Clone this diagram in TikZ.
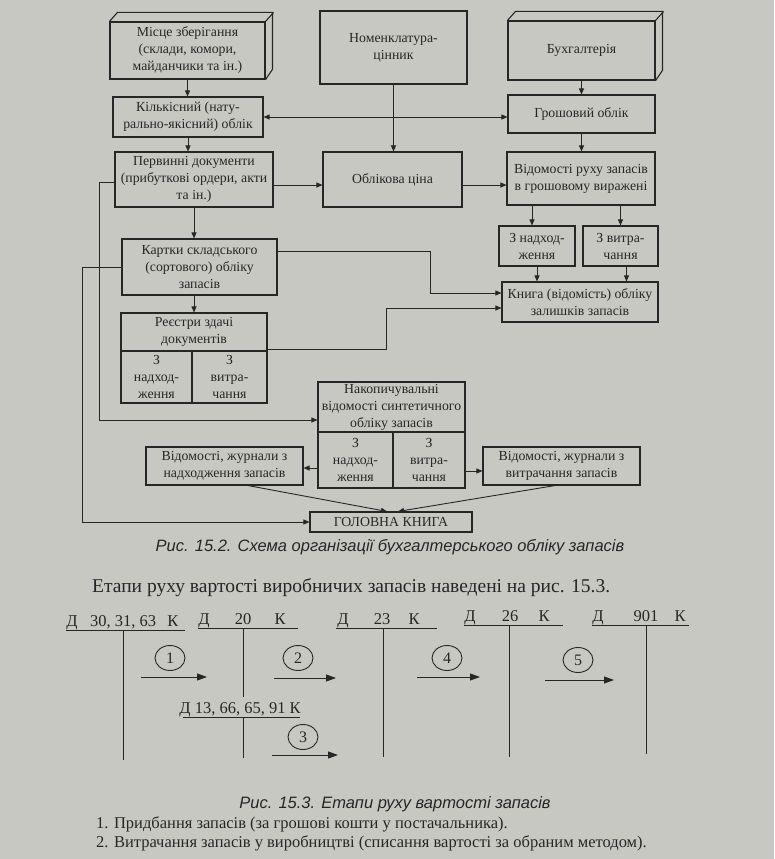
\documentclass[tikz,border=0pt]{standalone}
\usepackage{fontspec}
\setmainfont{Liberation Serif}
\setsansfont{Liberation Sans}
\usetikzlibrary{arrows.meta,shapes.geometric}
\definecolor{bg}{RGB}{200,200,195}
\definecolor{ink}{RGB}{38,38,38}
\begin{document}
\begin{tikzpicture}[x=1pt,y=-1pt,
  box/.style={draw=ink, fill=bg, line width=1.1pt, inner sep=1pt, align=center, text=ink,
    font=\fontsize{13.8}{17}\selectfont},
  arr/.style={draw=ink, line width=0.9pt, -{Triangle[length=6pt,width=5pt]}},
  darr/.style={draw=ink, line width=0.9pt, {Triangle[length=6pt,width=5pt]}-{Triangle[length=6pt,width=5pt]}},
  ln/.style={draw=ink, line width=0.9pt},
  tln/.style={draw=ink, line width=0.9pt},
  tarr/.style={draw=ink, line width=0.9pt, -{Triangle[length=10pt,width=7pt]}},
  ttxt/.style={text=ink, anchor=base, inner sep=0pt, font=\fontsize{16.5}{18}\selectfont},
  circ/.style={draw=ink, ellipse, line width=0.9pt, minimum width=30pt, minimum height=25pt,
    inner sep=0pt, text=ink, font=\fontsize{16}{18}\selectfont},
  ptxt/.style={text=ink, inner sep=0pt}
]
\fill[bg] (0,0) rectangle (774,859);
\useasboundingbox (0,0) rectangle (774,859);

% top row
\node[box, minimum width=155, minimum height=57] (mesce) at (187.5,50.5)
  {Місце зберігання\\(склади, комори,\\майданчики та ін.)};
\draw[ln, line width=1.1pt] (mesce.north west) -- ++(8,-9) -- ++(155,0) -- ++(0,57) -- (mesce.south east);
\draw[ln, line width=1.1pt] (mesce.north east) -- ++(8,-9);

\node[box, minimum width=147, minimum height=73] (nomen) at (393.5,47.5)
  {Номенклатура-\\цінник};

\node[box, minimum width=147, minimum height=59] (buh) at (581.5,50.5) {Бухгалтерія};
\draw[ln, line width=1.1pt] (buh.north west) -- ++(8,-9) -- ++(147,0) -- ++(0,59) -- (buh.south east);
\draw[ln, line width=1.1pt] (buh.north east) -- ++(8,-9);

% second row
\node[box, minimum width=150, minimum height=40] (kilk) at (188,117)
  {Кількісний (нату-\\рально-якісний) облік};
\node[box, minimum width=147, minimum height=38] (grosh) at (581.5,114) {Грошовий облік};

% third row
\node[box, minimum width=158, minimum height=55] (perv) at (194,179.5)
  {Первинні документи\\(прибуткові ордери, акти\\та ін.)};
\node[box, minimum width=139, minimum height=55] (oblik) at (392.5,179.5) {Облікова ціна};
\node[box, minimum width=148, minimum height=53] (vidom) at (581,178.5)
  {Відомості руху запасів\\в грошовому виражені};

\node[box, minimum width=76, minimum height=40] (zn) at (537,246) {З надход-\\ження};
\node[box, minimum width=75, minimum height=40] (zv) at (620.5,246) {З витра-\\чання};

\node[box, minimum width=155, minimum height=56] (kart) at (199.5,267)
  {Картки складського\\(сортового) обліку\\запасів};
\node[box, minimum width=156, minimum height=40] (kniga) at (580,302)
  {Книга (відомість) обліку\\залишків запасів};

% registers
\node[box, minimum width=146, minimum height=38] (reestrT) at (194,332) {Реєстри здачі\\документів};
\node[box, minimum width=71, minimum height=52] (reestrL) at (156.5,377) {З\\надход-\\ження};
\node[box, minimum width=75, minimum height=52] (reestrR) at (229.5,377) {З\\витра-\\чання};

% accumulating statements
\node[box, minimum width=147, minimum height=50] (nakopT) at (391.5,407)
  {Накопичувальні\\відомості синтетичного\\обліку запасів};
\node[box, minimum width=75, minimum height=56] (nakopL) at (355.5,460) {З\\надход-\\ження};
\node[box, minimum width=72, minimum height=56] (nakopR) at (429,460) {З\\витра-\\чання};

\node[box, minimum width=157, minimum height=38] (jl) at (224.5,466)
  {Відомості, журнали з\\надходження запасів};
\node[box, minimum width=157, minimum height=38] (jr) at (561.5,466)
  {Відомості, журнали з\\витрачання запасів};

\node[box, minimum width=162, minimum height=20] (gk) at (391,522) {ГОЛОВНА КНИГА};

% connectors
\draw[arr] (mesce.south) -- (mesce.south |- kilk.north);
\draw[darr] (kilk.east) -- (kilk.east -| grosh.west);
\draw[arr] (nomen.south) -- (nomen.south |- oblik.north);
\draw[arr] (buh.south) -- (buh.south |- grosh.north);
\draw[arr] (kilk.south) -- (kilk.south |- perv.north);
\draw[arr] (grosh.south) -- (grosh.south |- vidom.north);
\draw[arr] ([yshift=-5.5pt]perv.east) -- ([yshift=-5.5pt]perv.east -| oblik.west);
\draw[arr] ([yshift=-5.5pt]oblik.east) -- ([yshift=-5.5pt]oblik.east -| vidom.west);
\draw[arr] (perv.south) -- (perv.south |- kart.north);
\draw[arr] ([xshift=-5pt]zn.north |- vidom.south) -- ([xshift=-5pt]zn.north);
\draw[arr] (zv.north |- vidom.south) -- (zv.north);
\draw[arr] (zn.south) -- (zn.south |- kniga.north);
\draw[arr] ([xshift=6pt]zv.south) -- ([xshift=6pt]zv.south |- kniga.north);
\draw[arr] ([yshift=16pt]kart.east) -- ++(153,0) |- ([yshift=9pt]kniga.west);
\draw[arr] ([yshift=2pt]reestrT.south east) -- ++(119,0) |- ([yshift=-6pt]kniga.west);
\draw[arr] (reestrT.north |- kart.south) -- (reestrT.north);
\draw[arr] ([yshift=-2.5pt]perv.west) -- ++(-15,0) |- ([yshift=-13pt]nakopT.west);
\draw[arr] (kart.west) -- ++(-39,0) |- (gk.west);
\draw[arr] ([yshift=-8pt]nakopL.west) -- ([yshift=-8pt]nakopL.west -| jl.east);
\draw[arr] ([yshift=-11pt]nakopR.east) -- ([yshift=-11pt]nakopR.east -| jr.west);
\draw[arr] ([xshift=23.5pt]jl.south) -- ([xshift=-4pt]gk.north);
\draw[arr] ([xshift=-6.5pt]jr.south) -- ([xshift=7pt]gk.north);

\node[ptxt, font=\sffamily\itshape\fontsize{16.5}{19}\selectfont] (cap1) at (390,547)
  {Рис. 15.2. Схема організації бухгалтерського обліку запасів};

% second figure
\node[ptxt, anchor=west, font=\fontsize{19.5}{22}\selectfont] (intro) at (92,588)
  {Етапи руху вартості виробничих запасів наведені на рис. 15.3.};

% T-accounts headers
\node[ttxt] (a1d) at (72,626) {Д};
\node[ttxt] (a1n) at (123,626) {30, 31, 63};
\node[ttxt] (a1k) at (173,626) {К};
\draw[tln] (66,630) -- (185,630);
\draw[tln] (123,630) -- (123,760);

\node[ttxt] (a2d) at (204,624) {Д};
\node[ttxt] (a2n) at (243,624) {20};
\node[ttxt] (a2k) at (280,624) {К};
\draw[tln] (198,628) -- (298,628);
\draw[tln] (243,628) -- (243,697);

\node[ttxt] (a3d) at (343,624) {Д};
\node[ttxt] (a3n) at (382,624) {23};
\node[ttxt] (a3k) at (414,624) {К};
\draw[tln] (336,628) -- (437,628);
\draw[tln] (383,628) -- (383,757);

\node[ttxt] (a4d) at (470,621) {Д};
\node[ttxt] (a4n) at (510,621) {26};
\node[ttxt] (a4k) at (544,621) {К};
\draw[tln] (464,625) -- (563,625);
\draw[tln] (509,625) -- (509,757);

\node[ttxt] (a5d) at (598,621) {Д};
\node[ttxt] (a5n) at (646,621) {901};
\node[ttxt] (a5k) at (680,621) {К};
\draw[tln] (592,625) -- (689,625);
\draw[tln] (646,625) -- (646,754);

\node[ttxt] (a6) at (240,713) {Д 13, 66, 65, 91 К};
\draw[tln] (183,717) -- (300,717);
\draw[tln] (243,717) -- (243,758);

% stage circles and arrows
\node[circ] (c1) at (170,658) {1};
\node[circ] (c2) at (298,658) {2};
\node[circ] (c4) at (447,658) {4};
\node[circ] (c5) at (578,660) {5};
\node[circ] (c3) at (303,737) {3};
\coordinate (s1a) at (141,677); \coordinate (s1b) at (207,677);
\coordinate (s2a) at (274,678); \coordinate (s2b) at (336,678);
\coordinate (s4a) at (417,677); \coordinate (s4b) at (480,677);
\coordinate (s5a) at (545,680); \coordinate (s5b) at (614,680);
\coordinate (s3a) at (272,755); \coordinate (s3b) at (338,755);
\draw[tarr] (s1a) -- (s1b);
\draw[tarr] (s2a) -- (s2b);
\draw[tarr] (s4a) -- (s4b);
\draw[tarr] (s5a) -- (s5b);
\draw[tarr] (s3a) -- (s3b);

\node[ptxt, font=\sffamily\itshape\fontsize{16.5}{19}\selectfont] (cap2) at (395,804)
  {Рис. 15.3. Етапи руху вартості запасів};
\node[ptxt, anchor=west, font=\fontsize{16.5}{19}\selectfont] (l1) at (96,824)
  {1. Придбання запасів (за грошові кошти у постачальника).};
\node[ptxt, anchor=west, font=\fontsize{16.5}{19}\selectfont] (l2) at (96,843)
  {2. Витрачання запасів у виробництві (списання вартості за обраним методом).};
\end{tikzpicture}
\end{document}
